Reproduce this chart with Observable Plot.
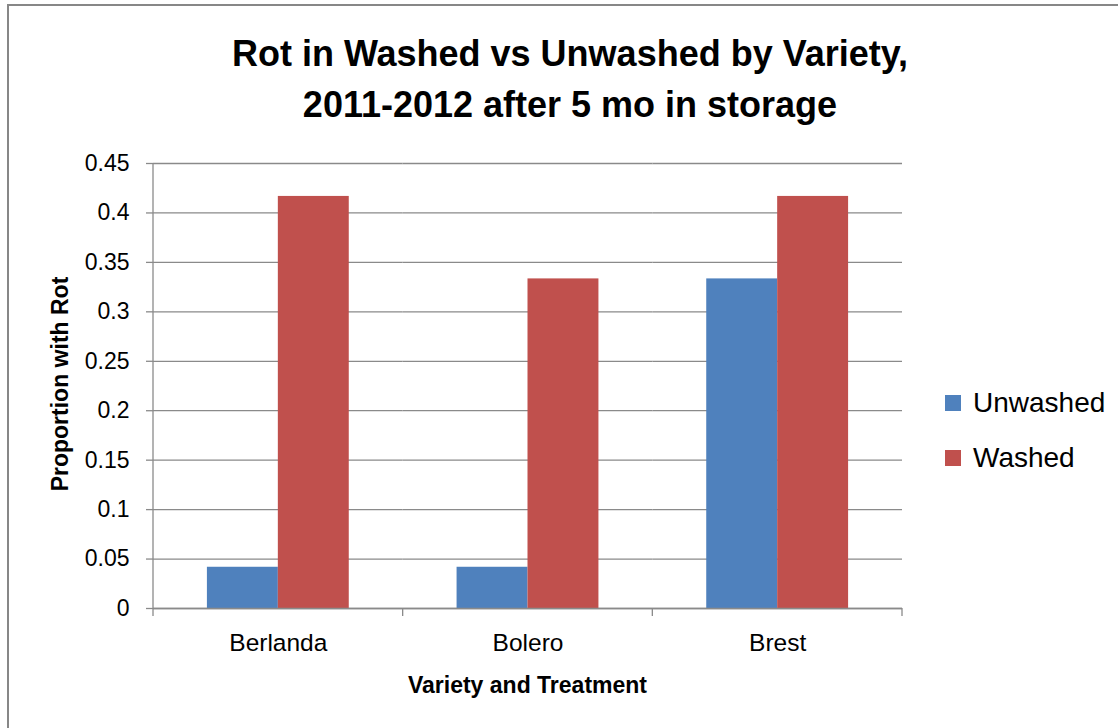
<!DOCTYPE html>
<html>
<head>
<meta charset="utf-8">
<script src="https://cdn.jsdelivr.net/npm/d3@7"></script>
<script src="https://cdn.jsdelivr.net/npm/@observablehq/plot@0.6"></script>
<style>
  html, body { margin: 0; padding: 0; background: #fff; overflow: hidden; width: 1118px; height: 728px; }
  body { position: relative; font-family: "Liberation Sans", Arial, sans-serif; }
  #frame { position: absolute; left: 7px; top: 4px; width: 1200px; height: 800px; border-left: 2px solid #878787; border-top: 2px solid #878787; box-sizing: border-box; }
  #chart { position: absolute; left: 0; top: 0; }
  .title { position: absolute; left: 0; width: 1140px; text-align: center; font-weight: bold; font-size: 36px; color: #000; white-space: nowrap; }
  .xtitle { position: absolute; left: 153px; width: 749px; top: 672px; text-align: center; font-weight: bold; font-size: 23px; white-space: nowrap; }
  .ytitle { position: absolute; left: 60px; top: 384px; transform: translate(-50%, -50%) rotate(-90deg); font-weight: bold; font-size: 23px; white-space: nowrap; }
  .legend { position: absolute; left: 945px; font-size: 28px; white-space: nowrap; }
  .legend span.sw { display: inline-block; width: 16px; height: 16px; margin-right: 12px; vertical-align: middle; position: relative; top: -2px; }
</style>
</head>
<body>
<div id="frame"></div>
<div id="chart"></div>
<div class="title" style="top: 33px;">Rot in Washed vs Unwashed by Variety,</div>
<div class="title" style="top: 84px;">2011-2012 after 5 mo in storage</div>
<div class="xtitle">Variety and Treatment</div>
<div class="ytitle">Proportion with Rot</div>
<div id="legend"></div>
<script>
// ---- data ----
const varieties = ["Berlanda", "Bolero", "Brest"];
const treatments = ["Unwashed", "Washed"];
const unwashed = [0.0417, 0.0417, 0.3333];
const washed = [0.4167, 0.3333, 0.4167];
const colors = ["#4F81BD", "#C0504D"];
const yTicks = [0, 0.05, 0.1, 0.15, 0.2, 0.25, 0.3, 0.35, 0.4, 0.45];
const yTickLabels = ["0", "0.05", "0.1", "0.15", "0.2", "0.25", "0.3", "0.35", "0.4", "0.45"];

const rows = [];
varieties.forEach((v, i) => {
  rows.push({variety: v, treatment: treatments[0], value: unwashed[i]});
  rows.push({variety: v, treatment: treatments[1], value: washed[i]});
});

const gridColor = "#8a8a8a";

const plot = Plot.plot({
  width: 1118,
  height: 728,
  marginLeft: 153,
  marginRight: 216,
  marginTop: 163,
  marginBottom: 120,
  style: {fontFamily: "'Liberation Sans', Arial, sans-serif", fontSize: "23px", color: "#000", background: "transparent"},
  fx: {domain: varieties, padding: 0, round: false, label: null},
  x: {domain: treatments, paddingInner: 0, paddingOuter: 0.76, round: false, axis: null},
  y: {domain: [0, 0.45], label: null},
  color: {domain: treatments, range: colors},
  marks: [
    Plot.gridY(yTicks, {stroke: gridColor, strokeOpacity: 1, strokeWidth: 1.3}),
    Plot.axisY(yTicks, {
      tickSize: 7, tickPadding: 17, stroke: gridColor, strokeWidth: 1.3, fill: "#000",
      tickFormat: (d) => yTickLabels[yTicks.indexOf(d)], label: null, fontSize: 23
    }),
    Plot.barY(rows, {fx: "variety", x: "treatment", y: "value", fill: "treatment"}),
    Plot.ruleY([0], {stroke: gridColor, strokeWidth: 1.3}),
    Plot.axisFx({anchor: "bottom", tickSize: 0, tickPadding: 25, label: null, fontSize: 24.5, fill: "#000"})
  ]
});

document.getElementById("chart").appendChild(plot);

// Excel-style axis line and category boundary ticks, positioned from Plot's own scales
const fx = plot.scale("fx");
const y = plot.scale("y");
const svg = d3.select(plot);
const y0 = y.apply(0), yTop = y.apply(0.45);
const x0 = fx.range[0];
const step = fx.step;
svg.append("line").attr("x1", x0).attr("x2", x0).attr("y1", yTop).attr("y2", y0)
  .attr("stroke", gridColor).attr("stroke-width", 1.3);
for (let i = 0; i <= varieties.length; i++) {
  const xb = x0 + i * step;
  svg.append("line").attr("x1", xb).attr("x2", xb).attr("y1", y0).attr("y2", y0 + 8)
    .attr("stroke", gridColor).attr("stroke-width", 1.3);
}

// legend
const leg = document.getElementById("legend");
treatments.forEach((t, i) => {
  const d = document.createElement("div");
  d.className = "legend";
  d.style.top = (387 + i * 55) + "px";
  d.innerHTML = `<span class="sw" style="background:${colors[i]}"></span>${t}`;
  leg.appendChild(d);
});
</script>
</body>
</html>
